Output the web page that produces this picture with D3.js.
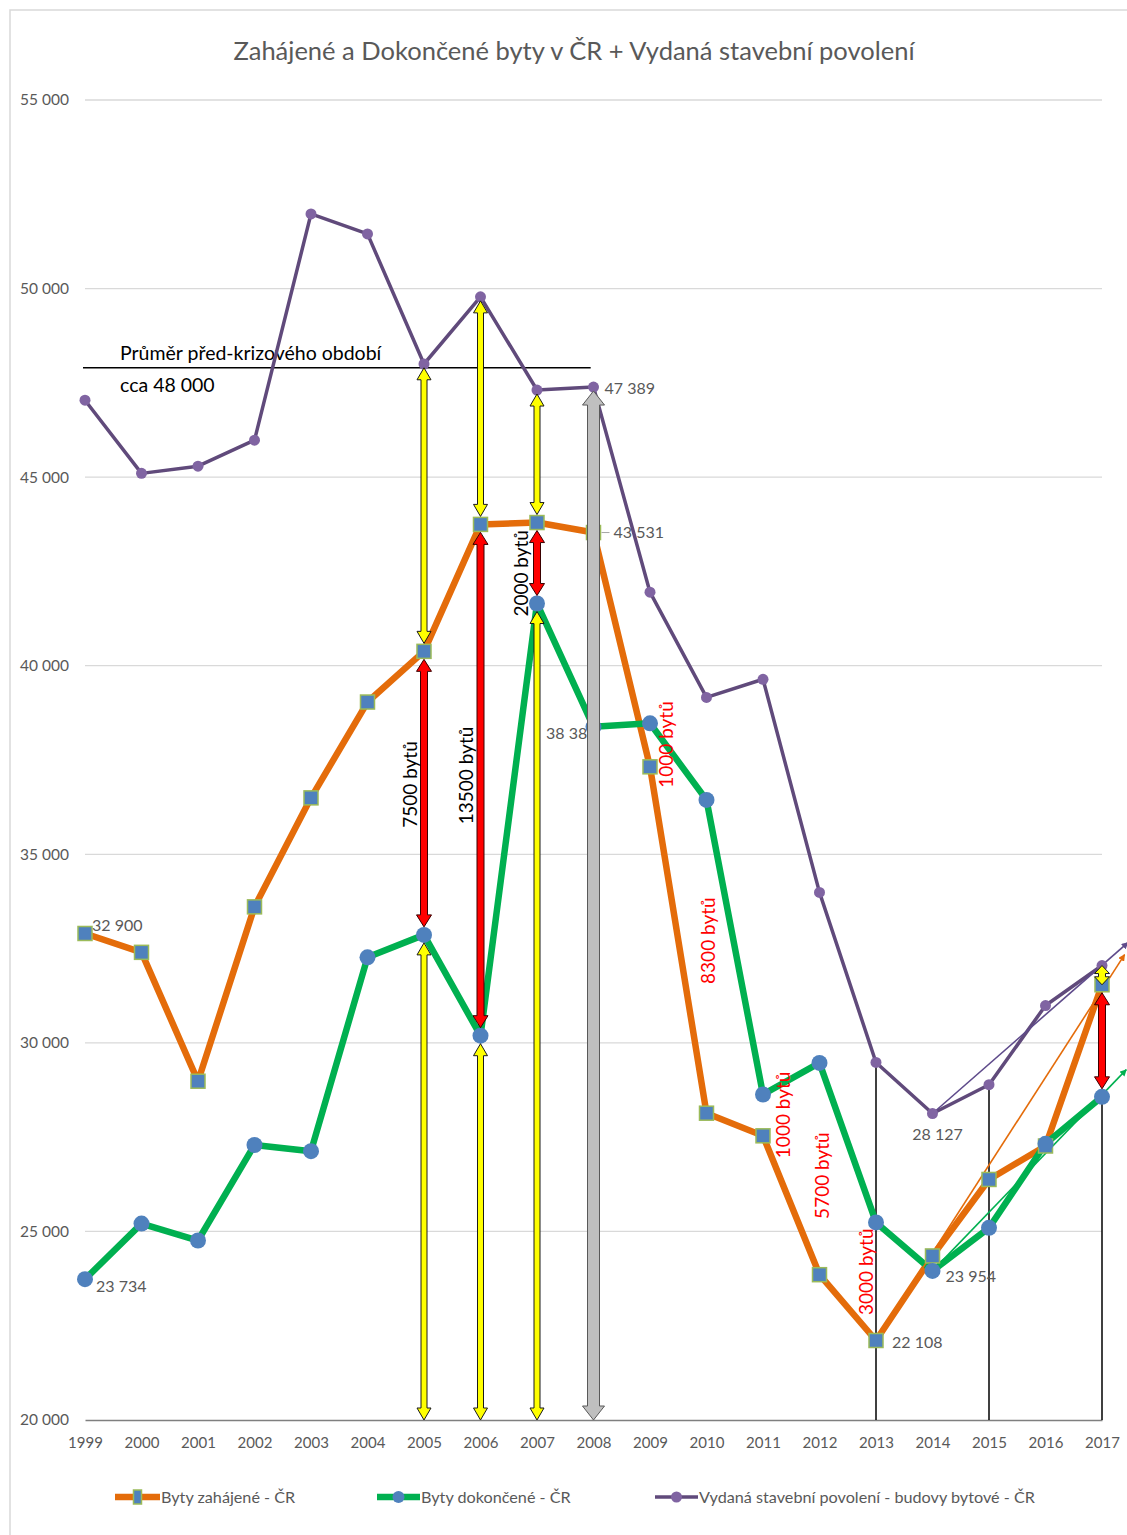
<!DOCTYPE html>
<html>
<head>
<meta charset="utf-8">
<script src="https://cdn.jsdelivr.net/npm/d3@7"></script>
<style>
  body { margin: 0; background: #fff; }
  svg text { font-family: Lato, "Open Sans", sans-serif; }
</style>
</head>
<body>
<div id="chart"></div>
<script>
// --- data ---------------------------------------------------------------
const years = [1999, 2000, 2001, 2002, 2003, 2004, 2005, 2006, 2007, 2008,
               2009, 2010, 2011, 2012, 2013, 2014, 2015, 2016, 2017];
const zahajene  = [32900, 32400, 28983, 33606, 36496, 39037, 40381, 43747, 43796, 43531,
                   37319, 28135, 27535, 23853, 22108, 24350, 26378, 27265, 31540];
const dokoncene = [23734, 25207, 24759, 27291, 27127, 32268, 32863, 30190, 41649, 38380,
                   38473, 36442, 28630, 29467, 25238, 23954, 25095, 27322, 28569];
const povoleni  = [47040, 45100, 45290, 45980, 51980, 51450, 48000, 49780, 47310, 47389,
                   41950, 39160, 39640, 33990, 29480, 28127, 28890, 30990, 32050];
const yTicks = [20000, 25000, 30000, 35000, 40000, 45000, 50000, 55000];
const seriesNames = ['Byty zahájené - ČR', 'Byty dokončené - ČR',
                     'Vydaná stavební povolení - budovy bytové - ČR'];

const avgValue = 47900;          // "Průměr před-krizového období"
const avgSpan = [1999, 2007.95];

// labelled points: [series, year, dx, dy, anchor]
const pointLabels = [
  ['zah', 1999, 7, -2, 'start'], ['dok', 1999, 11, 13, 'start'],
  ['pov', 2008, 11, 7, 'start'], ['zah', 2008, 20, 5, 'start'],
  ['dok', 2008, 3, 12, 'end'],   ['pov', 2014, 5, 27, 'middle'],
  ['dok', 2014, 13, 11, 'start'], ['zah', 2013, 16, 8, 'start']
];

// double arrows: [year, from, to, kind]
const arrows = [
  [2005, 'avg', 'zah', 'yellow'], [2005, 'dok', 'axis', 'yellow'],
  [2006, 'pov', 'zah', 'yellow'], [2006, 'dok', 'axis', 'yellow'],
  [2007, 'pov', 'zah', 'yellow'], [2007, 'dok', 'axis', 'yellow'],
  [2005, 'zah', 'dok', 'red'], [2006, 'zah', 'dok', 'red'],
  [2007, 'zah', 'dok', 'red'], [2017, 'zah', 'dok', 'red'],
  [2008, 'pov', 'axis', 'gray'], [2017, 'pov', 'zah', 'small']
];

// rotated notes: [text, year, value, colour]
const notes = [
  ['7500 bytů', 2004.75, 36850, '#000'], ['13500 bytů', 2005.73, 37090, '#000'],
  ['2000 bytů', 2006.70, 42450, '#000'], ['1000 bytů', 2009.27, 37910, '#ff0000'],
  ['8300 bytů', 2010.01, 32710, '#ff0000'], ['1000 bytů', 2011.35, 28090, '#ff0000'],
  ['5700 bytů', 2012.04, 26480, '#ff0000'], ['3000 bytů', 2012.82, 23930, '#ff0000']
];

// vertical black guides: [year, from]
const guides = [[2013, 'pov'], [2015, 'pov'], [2017, 'dok']];

// thin trend arrows: [series, fromYear, toYear, toValue]
const trends = [
  ['zah', 2013, 2017.40, 32340], ['pov', 2014, 2017.46, 32660], ['dok', 2014, 2017.43, 29290]
];

// --- setup --------------------------------------------------------------
const width = 1127, height = 1535;
const colors = { zah: '#e46c0a', dok: '#00b050', pov: '#604a7b' };
const values = { zah: zahajene, dok: dokoncene, pov: povoleni };
const inset = { zah: 8, dok: 8, pov: 4, avg: 0, axis: 0 };

const x = d3.scaleLinear().domain([1999, 2017]).range([85, 1102]);
const y = d3.scaleLinear().domain([20000, 55000]).range([1420, 100]);
const fmt = v => d3.format(',')(v).replace(/,/g, ' ');
const valueAt = (key, year) => {
  if (key === 'avg') return avgValue;
  if (key === 'axis') return 20000;
  return values[key][years.indexOf(year)];
};

const svg = d3.select('#chart').append('svg')
              .attr('width', width)
              .attr('height', height);

const defs = svg.append('defs');
Object.entries(colors).forEach(([k, c]) => {
  defs.append('marker')
      .attr('id', `head-${k}`)
      .attr('viewBox', '0 0 10 10')
      .attr('refX', 9).attr('refY', 5)
      .attr('markerWidth', 7).attr('markerHeight', 7)
      .attr('markerUnits', 'userSpaceOnUse')
      .attr('orient', 'auto')
      .append('path')
      .attr('d', 'M0,0 L10,5 L0,10 z')
      .attr('fill', k === 'pov' ? '#5f4b8b' : c);
});

// chart frame (cropped on the right)
svg.append('path')
   .attr('d', `M10,${height} L10,10 L${width},10`)
   .attr('fill', 'none')
   .attr('stroke', '#d9d9d9')
   .attr('stroke-width', 1.5);

svg.append('text')
   .attr('x', 574).attr('y', 60)
   .attr('text-anchor', 'middle')
   .attr('font-size', 25.5)
   .attr('fill', '#595959')
   .text('Zahájené a Dokončené byty v ČR + Vydaná stavební povolení');

// grid + axes
svg.append('g')
   .selectAll('line')
   .data(yTicks.slice(1))
   .join('line')
   .attr('x1', x(1999)).attr('x2', x(2017))
   .attr('y1', d => y(d)).attr('y2', d => y(d))
   .attr('stroke', '#d9d9d9')
   .attr('stroke-width', 1.3);

const yAxis = svg.append('g')
   .attr('transform', `translate(${x(1999)},0)`)
   .call(d3.axisLeft(y).tickValues(yTicks).tickFormat(fmt).tickSize(0).tickPadding(16));
yAxis.select('.domain').remove();
yAxis.selectAll('text').attr('font-size', 15.5).attr('fill', '#595959')
     .attr('font-family', 'Lato, sans-serif');

const xAxis = svg.append('g')
   .attr('transform', `translate(0,${y(20000)})`)
   .call(d3.axisBottom(x).tickValues(years).tickFormat(d3.format('d')).tickSize(0).tickPadding(17));
xAxis.select('.domain').attr('stroke', '#7f7f7f').attr('stroke-width', 1.5);
xAxis.selectAll('text').attr('font-size', 15).attr('fill', '#595959')
     .attr('font-family', 'Lato, sans-serif');

// pre-crisis average
svg.append('line')
   .attr('x1', x(avgSpan[0]) - 2).attr('x2', x(avgSpan[1]))
   .attr('y1', y(avgValue)).attr('y2', y(avgValue))
   .attr('stroke', '#000').attr('stroke-width', 1.5);
svg.append('text')
   .attr('x', 120).attr('y', y(avgValue) - 8)
   .attr('font-size', 19.5).attr('fill', '#000')
   .text('Průměr před-krizového období');
svg.append('text')
   .attr('x', 120).attr('y', y(avgValue) + 24)
   .attr('font-size', 19.5).attr('fill', '#000')
   .text('cca 48 000');

// black guide lines
svg.append('g')
   .selectAll('line')
   .data(guides)
   .join('line')
   .attr('x1', d => x(d[0])).attr('x2', d => x(d[0]))
   .attr('y1', d => y(valueAt(d[1], d[0]))).attr('y2', y(20000))
   .attr('stroke', '#000').attr('stroke-width', 1.5);

// series lines
const line = d3.line().x((d, i) => x(years[i])).y(d => y(d));
[['zah', 6.5], ['dok', 6.5], ['pov', 3.5]].forEach(([k, w]) => {
  svg.append('path')
     .datum(values[k])
     .attr('d', line)
     .attr('fill', 'none')
     .attr('stroke', colors[k])
     .attr('stroke-width', w)
     .attr('stroke-linejoin', 'round');
});

// thin trend arrows
svg.append('g')
   .selectAll('line')
   .data(trends)
   .join('line')
   .attr('x1', d => x(d[1])).attr('y1', d => y(valueAt(d[0], d[1])))
   .attr('x2', d => x(d[2])).attr('y2', d => y(d[3]))
   .attr('stroke', d => d[0] === 'pov' ? '#5f4b8b' : colors[d[0]])
   .attr('stroke-width', 1.6)
   .attr('marker-end', d => `url(#head-${d[0]})`);

// markers
svg.append('g')
   .selectAll('rect')
   .data(zahajene)
   .join('rect')
   .attr('x', (d, i) => x(years[i]) - 7).attr('y', d => y(d) - 7)
   .attr('width', 14).attr('height', 14)
   .attr('fill', '#4f81bd')
   .attr('stroke', '#9bbb59').attr('stroke-width', 1.5);
svg.append('g')
   .selectAll('circle')
   .data(dokoncene)
   .join('circle')
   .attr('cx', (d, i) => x(years[i])).attr('cy', d => y(d))
   .attr('r', 8)
   .attr('fill', '#4f81bd');
svg.append('g')
   .selectAll('circle')
   .data(povoleni)
   .join('circle')
   .attr('cx', (d, i) => x(years[i])).attr('cy', d => y(d))
   .attr('r', 5.5)
   .attr('fill', '#8064a2');

// value labels
svg.append('g')
   .selectAll('text')
   .data(pointLabels)
   .join('text')
   .attr('x', d => x(d[1]) + d[2])
   .attr('y', d => y(valueAt(d[0], d[1])) + d[3])
   .attr('text-anchor', d => d[4])
   .attr('font-size', 16)
   .attr('fill', '#595959')
   .text(d => fmt(valueAt(d[0], d[1])));
svg.append('line')
   .attr('x1', x(2008) + 8).attr('x2', x(2008) + 16)
   .attr('y1', y(valueAt('zah', 2008))).attr('y2', y(valueAt('zah', 2008)))
   .attr('stroke', '#a6a6a6');

// block double arrows
const arrowStyle = {
  yellow: { fill: '#ffff00', stroke: '#1a1a1a', sw: 6, hw: 14, hl: 12 },
  red:    { fill: '#ff0000', stroke: '#3a0000', sw: 7, hw: 15, hl: 12 },
  gray:   { fill: '#bfbfbf', stroke: '#595959', sw: 12, hw: 22, hl: 14 },
  small:  { fill: '#ffff00', stroke: '#1a1a1a', sw: 7, hw: 15, hl: 8 }
};
const arrowPoints = d => {
  const [year, from, to, kind] = d;
  const s = arrowStyle[kind];
  const cx = x(year);
  const pad = kind === 'small' ? 0 : 1;
  let t = y(valueAt(from, year)) + inset[from] * pad;
  let b = y(valueAt(to, year)) - inset[to] * pad;
  const hl = Math.min(s.hl, (b - t) / 2);
  const hw = s.hw / 2, sw = s.sw / 2;
  return [[cx, t], [cx + hw, t + hl], [cx + sw, t + hl], [cx + sw, b - hl], [cx + hw, b - hl],
          [cx, b], [cx - hw, b - hl], [cx - sw, b - hl], [cx - sw, t + hl], [cx - hw, t + hl]]
         .map(p => p.join(',')).join(' ');
};
svg.append('g')
   .selectAll('polygon')
   .data(arrows)
   .join('polygon')
   .attr('points', arrowPoints)
   .attr('fill', d => arrowStyle[d[3]].fill)
   .attr('stroke', d => arrowStyle[d[3]].stroke)
   .attr('stroke-width', 1);

// rotated notes
svg.append('g')
   .selectAll('text')
   .data(notes)
   .join('text')
   .attr('transform', d => `translate(${x(d[1])},${y(d[2])}) rotate(-90)`)
   .attr('text-anchor', 'middle')
   .attr('dominant-baseline', 'central')
   .attr('font-size', 19)
   .attr('fill', d => d[3])
   .text(d => d[0]);

// legend
const legend = svg.append('g').attr('transform', 'translate(0,1497)');
const legendItems = [['zah', 115, 160], ['dok', 377, 420], ['pov', 655, 698]];
legendItems.forEach(([k, x0, x1], i) => {
  legend.append('line')
        .attr('x1', x0).attr('x2', x1)
        .attr('stroke', colors[k])
        .attr('stroke-width', k === 'pov' ? 3.5 : 6.5);
  const mid = (x0 + x1) / 2;
  if (k === 'zah') {
    legend.append('rect')
          .attr('x', mid - 4).attr('y', -7).attr('width', 8).attr('height', 14)
          .attr('fill', '#4f81bd').attr('stroke', '#9bbb59').attr('stroke-width', 1.5);
  } else {
    legend.append('circle')
          .attr('cx', mid).attr('r', k === 'pov' ? 5.5 : 6)
          .attr('fill', k === 'pov' ? '#8064a2' : '#4f81bd');
  }
  legend.append('text')
        .attr('x', x1 + 1).attr('y', 6)
        .attr('font-size', 16.2)
        .attr('fill', '#595959')
        .text(seriesNames[i]);
});
</script>
</body>
</html>
